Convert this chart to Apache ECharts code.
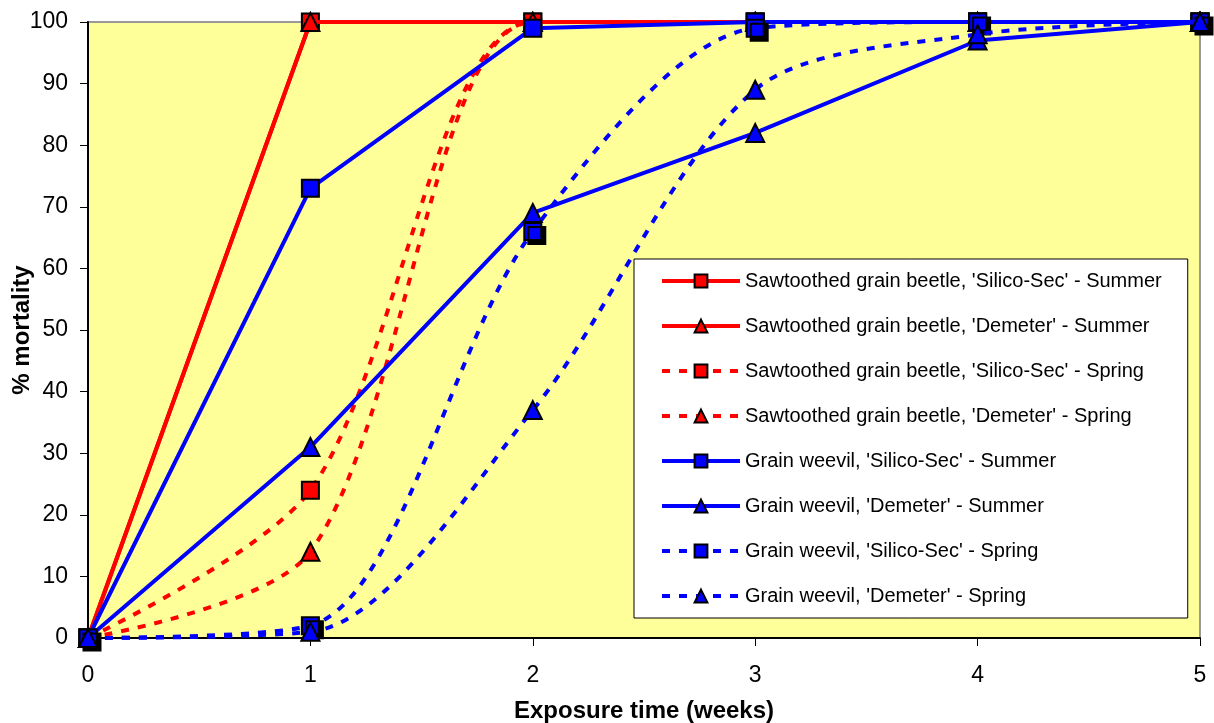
<!DOCTYPE html>
<html><head><meta charset="utf-8">
<script src="https://cdn.jsdelivr.net/npm/echarts@6/dist/echarts.min.js"></script>
<style>html,body{margin:0;padding:0;background:#fff}#c{width:1214px;height:723px}</style>
</head><body><div id="c"></div>
<script>
const weeks = [0, 1, 2, 3, 4, 5];
const seriesNames = [
  "Sawtoothed grain beetle, 'Silico-Sec' - Summer",
  "Sawtoothed grain beetle, 'Demeter' - Summer",
  "Sawtoothed grain beetle, 'Silico-Sec' - Spring",
  "Sawtoothed grain beetle, 'Demeter' - Spring",
  "Grain weevil, 'Silico-Sec' - Summer",
  "Grain weevil, 'Demeter' - Summer",
  "Grain weevil, 'Silico-Sec' - Spring",
  "Grain weevil, 'Demeter' - Spring"
];
const sgbSilicoSummer = [0, 100, 100, 100, 100, 100];
const sgbDemeterSummer = [0, 100, 100, 100, 100, 100];
const sgbSilicoSpring = [0, 24, 100, 100, 100, 100];
const sgbDemeterSpring = [0, 14, 100, 100, 100, 100];
const gwSilicoSummer = [0, 73, 99, 100, 100, 100];
const gwDemeterSummer = [0, 31, 69, 82, 97, 100];
const gwSilicoSpring = [0, 2, 66, 99, 100, 100];
const gwDemeterSpring = [0, 1, 37, 89, 98, 100];
const xTicks = [0, 1, 2, 3, 4, 5];
const yTicks = [0, 10, 20, 30, 40, 50, 60, 70, 80, 90, 100];

const allData = [sgbSilicoSummer, sgbDemeterSummer, sgbSilicoSpring, sgbDemeterSpring,
                 gwSilicoSummer, gwDemeterSummer, gwSilicoSpring, gwDemeterSpring];
const colors = ['#FF0000','#FF0000','#FF0000','#FF0000','#0000FF','#0000FF','#0000FF','#0000FF'];
const symbols = ['rect','triangle','rect','triangle','rect','triangle','rect','triangle'];
const dashed = [false,false,true,true,false,false,true,true];

const series = allData.map((vals, i) => ({
  name: seriesNames[i],
  type: 'line',
  data: vals.map((v, k) => [weeks[k], v]),
  smooth: dashed[i] ? 0.3 : false,
  symbol: symbols[i],
  symbolSize: symbols[i] === 'rect' ? 17 : 18,
  lineStyle: { color: colors[i], width: 4, type: dashed[i] ? [8, 9] : 'solid' },
  itemStyle: Object.assign({ color: colors[i], borderColor: '#000', borderWidth: 2 },
    i === 6 ? { shadowColor: '#000', shadowOffsetX: 4, shadowOffsetY: 4, shadowBlur: 0 } : {}),
  emphasis: { disabled: true },
  z: 2 + i
}));

const chart = echarts.init(document.getElementById('c'));
chart.setOption({
  animation: false,
  backgroundColor: '#fff',
  grid: { left: 88, right: 14, top: 22, bottom: 85, outerBoundsMode: 'none', containLabel: false,
          show: true, backgroundColor: '#FFFF99', borderColor: '#999', borderWidth: 2 },
  xAxis: {
    type: 'value', min: xTicks[0], max: xTicks[xTicks.length-1], interval: 1,
    name: 'Exposure time (weeks)', nameLocation: 'middle', nameGap: 61, nameMoveOverlap: false,
    nameTextStyle: { fontFamily: 'Liberation Sans', fontWeight: 'bold', fontSize: 24, color: '#000' },
    axisLine: { lineStyle: { color: '#000', width: 2 } },
    axisTick: { show: true, length: 8, lineStyle: { color: '#000', width: 1 } },
    axisLabel: { fontFamily: 'Liberation Sans', fontSize: 23, color: '#000', margin: 26 },
    splitLine: { show: false }
  },
  yAxis: {
    type: 'value', min: yTicks[0], max: yTicks[yTicks.length-1], interval: 10,
    name: '% mortality', nameLocation: 'middle', nameGap: 54, nameMoveOverlap: false,
    nameTextStyle: { fontFamily: 'Liberation Sans', fontWeight: 'bold', fontSize: 24, color: '#000' },
    axisLine: { show: true, lineStyle: { color: '#000', width: 2 } },
    axisTick: { show: true, length: 8, lineStyle: { color: '#000', width: 1 } },
    axisLabel: { fontFamily: 'Liberation Sans', fontSize: 23, color: '#000', margin: 20 },
    splitLine: { show: false }
  },
  legend: {
    orient: 'vertical', left: 634, top: 259,
    backgroundColor: '#fff', borderColor: '#000', borderWidth: 1,
    padding: [12, 26, 12, 26], itemGap: 25, itemWidth: 78, itemHeight: 16,
    lineStyle: { width: 4 },
    textStyle: { fontFamily: 'Liberation Sans', fontSize: 20, lineHeight: 20, color: '#000' },
    data: seriesNames
  },
  series: series
});
</script></body></html>
